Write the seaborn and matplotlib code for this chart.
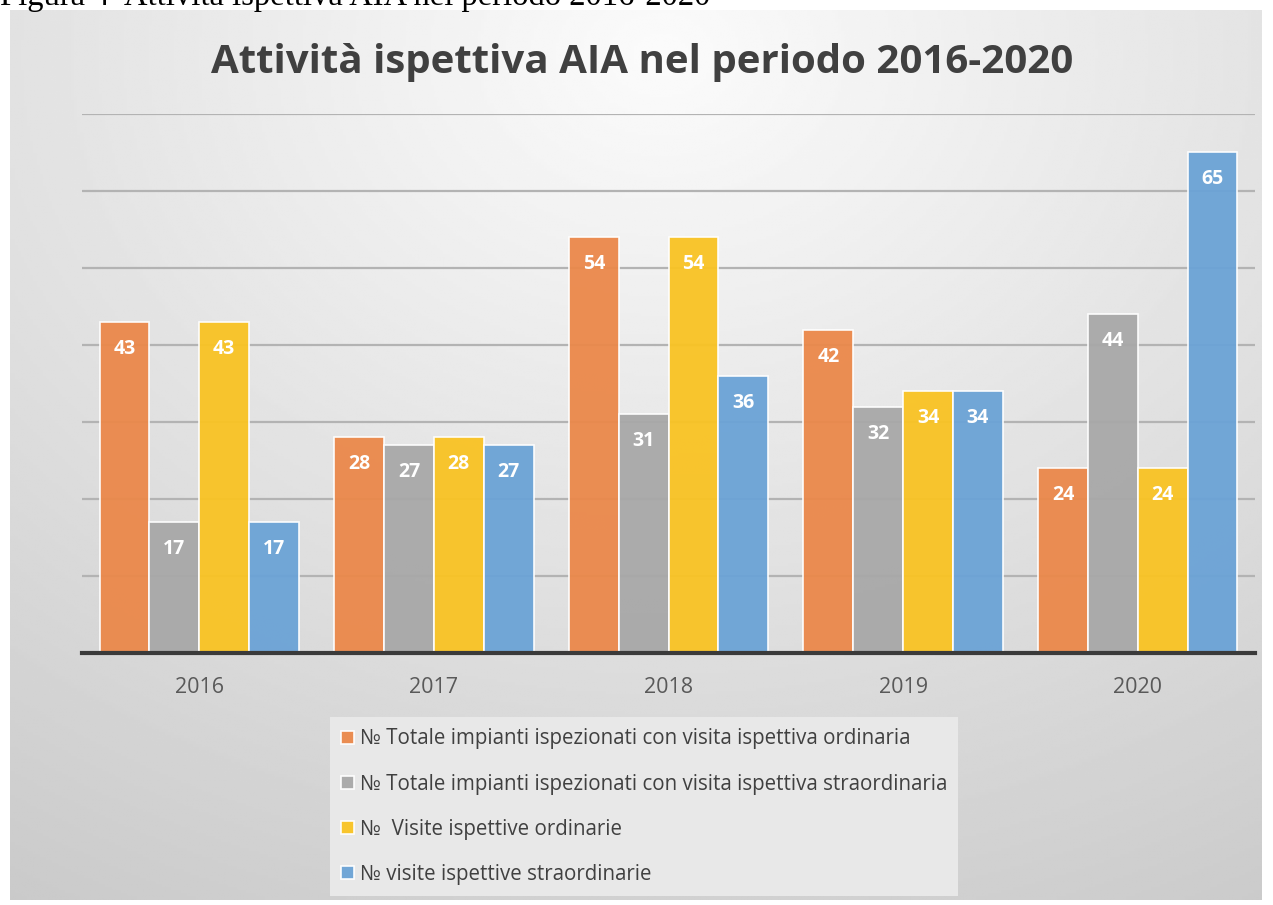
import numpy as np
import pandas as pd
import matplotlib
matplotlib.use("Agg")
import matplotlib.pyplot as plt
import seaborn as sns

# dati
anni = ["2016", "2017", "2018", "2019", "2020"]
serie = [
    "№ Totale impianti ispezionati con visita ispettiva ordinaria",
    "№ Totale impianti ispezionati con visita ispettiva straordinaria",
    "№  Visite ispettive ordinarie",
    "№ visite ispettive straordinarie",
]
impianti_ordinaria = [43, 28, 54, 42, 24]
impianti_straordinaria = [17, 27, 31, 32, 44]
visite_ordinarie = [43, 28, 54, 34, 24]
visite_straordinarie = [17, 27, 36, 34, 65]
colori = ["#eb884a", "#a8a8a8", "#f9c323", "#6ba3d6"]

righe = []
for nome, valori in zip(serie, [impianti_ordinaria, impianti_straordinaria,
                                visite_ordinarie, visite_straordinarie]):
    for anno, v in zip(anni, valori):
        righe.append({"anno": anno, "serie": nome, "valore": v})
dati = pd.DataFrame(righe)

sns.set_style("white")
plt.rcParams["font.family"] = ["Open Sans", "DejaVu Sans"]

fig = plt.figure(figsize=(12.73, 9.05), dpi=100)

# sfondo sfumato dell'area grafico
bg = fig.add_axes([10 / 1273, 1 - 900 / 905, 1252 / 1273, 890 / 905], zorder=-10)
yy, xx = np.mgrid[0:1:300j, 0:1:400j]
r = np.sqrt(((xx - 0.52) / 1.0) ** 2 + ((yy - 0.05) / 1.1) ** 2)
shade = 0.985 - 0.23 * np.clip(r, 0, 1.2) / 1.2
bg.imshow(shade, cmap="gray", vmin=0, vmax=1, aspect="auto", extent=[0, 1, 1, 0])
bg.axis("off")

ax = fig.add_axes([82 / 1273, 1 - 653 / 905, 1173 / 1273, (653 - 114) / 905])
ax.set_facecolor("none")
sns.barplot(data=dati, x="anno", y="valore", hue="serie", hue_order=serie,
            palette=colori, saturation=1, width=0.85, edgecolor="white",
            linewidth=1.2, alpha=0.95, ax=ax, legend=True, zorder=3)

ax.set_ylim(0, 70)
ax.set_yticks(range(10, 71, 10))
ax.set_yticklabels([])
ax.tick_params(axis="y", length=0)
ax.tick_params(axis="x", length=0, labelsize=15.5, labelcolor="#595959", pad=17)
ax.yaxis.grid(True, color="#b3b3b3", linewidth=1.6, zorder=0)
ax.set_axisbelow(True)
for lato in ["top", "right", "left"]:
    ax.spines[lato].set_visible(False)
ax.spines["bottom"].set_color("#3a3a3a")
ax.spines["bottom"].set_linewidth(3)
ax.spines["bottom"].set_zorder(5)
ax.set_xlabel("")
ax.set_ylabel("")

for cont in ax.containers:
    for p in cont:
        h = p.get_height()
        ax.text(p.get_x() + p.get_width() / 2, h - 3.5, f"{h:.0f}",
                ha="center", va="center", color="white", fontsize=14,
                fontweight="bold", zorder=6)

handles, labels = ax.get_legend_handles_labels()
ax.get_legend().remove()
leg = fig.legend(handles, labels, loc="upper left",
                 bbox_to_anchor=(330 / 1273, 1 - 717 / 905), borderaxespad=0,
                 fontsize=14.8, frameon=True, facecolor="#e8e8e8",
                 edgecolor="none", framealpha=1, fancybox=False,
                 handlelength=0.6, handleheight=0.6, handletextpad=0.3,
                 labelspacing=1.18, borderpad=0.55)
for t in leg.get_texts():
    t.set_color("#404040")

fig.text(642 / 1273, 1 - 62 / 905, "Attività ispettiva AIA nel periodo 2016-2020",
         ha="center", va="center", fontsize=29, fontweight="bold", color="#404040")

fig.text(0.0, 1 - 5 / 905, "Figura 4  Attività ispettiva AIA nel periodo 2016-2020",
         ha="left", va="baseline", fontsize=23.5, color="#000000",
         family=["Liberation Serif", "DejaVu Serif"])

fig.savefig("out.png", dpi=100)
